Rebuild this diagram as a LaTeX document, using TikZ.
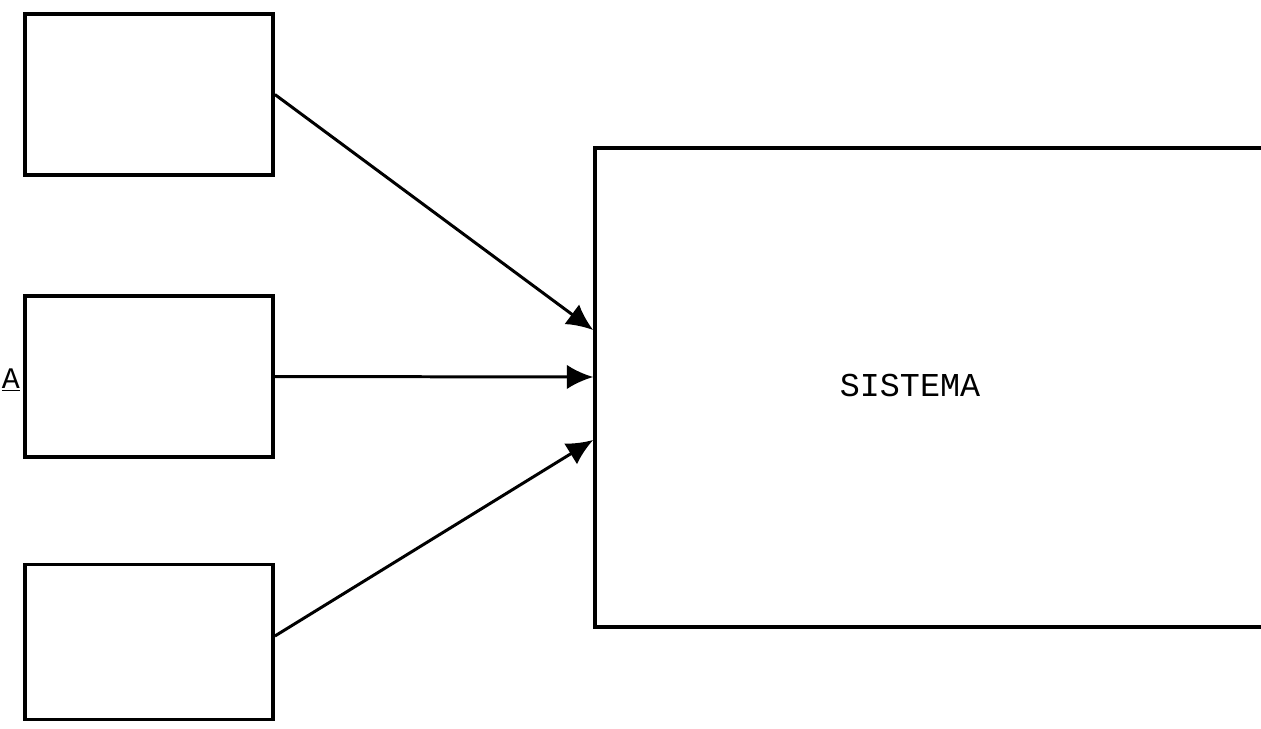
\documentclass[tikz,border=0pt]{standalone}
\usepackage{fontspec}
\setmonofont{Liberation Mono}
\usetikzlibrary{arrows.meta}

\begin{document}
\begin{tikzpicture}[x=0.02cm,y=-0.02cm,line width=2.2pt,
  box/.style={draw,rectangle,minimum width=4.96cm,minimum height=3.22cm,inner sep=0pt},
  feed/.style={line width=1.7pt,-{Latex[length=15pt,width=14pt]}}]
  \clip (0,0) rectangle (1261,728);
  \node[box] (E1) at (149,94.5) {};
  \node[box] (E2) at (149,376.5) {};
  \node[box,minimum height=3.1cm] (E3) at (149,642) {};
  \node[draw,minimum width=13.6cm,minimum height=9.58cm,inner sep=0pt] (S) at (935,387.5) {};
  \node[font=\ttfamily\fontsize{19}{19}\selectfont] (T) at (910,385) {SISTEMA};
  \node[anchor=west,inner sep=0pt,font=\ttfamily\fontsize{17}{17}\selectfont] (A) at (0,380) {\underline{A}};

  \draw[feed] (E1.east) -- ([yshift=1.15cm]S.west);
  \draw[feed] (E2.east) -- ([yshift=0.21cm]S.west);
  \draw[feed] ([yshift=0.12cm]E3.east) -- ([yshift=-1.05cm]S.west);
\end{tikzpicture}
\end{document}
